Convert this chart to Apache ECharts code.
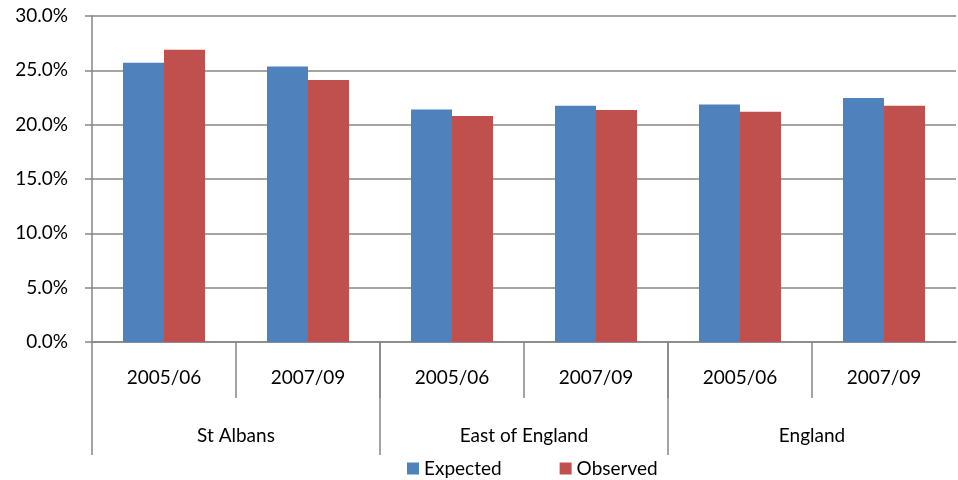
<!DOCTYPE html>
<html>
<head>
<meta charset="utf-8">
<script src="https://cdn.jsdelivr.net/npm/echarts@6/dist/echarts.min.js"></script>
<style>
html,body{margin:0;padding:0;background:#fff;}
#c{width:958px;height:480px;}
</style>
</head>
<body>
<div id="c"></div>
<script>
const periods = ['2005/06', '2007/09', '2005/06', '2007/09', '2005/06', '2007/09'];
const regions = ['St Albans', 'East of England', 'England'];
const expected = [25.7, 25.35, 21.4, 21.75, 21.85, 22.45];
const observed = [26.9, 24.1, 20.8, 21.35, 21.2, 21.75];
const yTicks = { min: 0, max: 30, interval: 5 };

const FONT = 'Lato';
const GRAY = '#868686';
const chart = echarts.init(document.getElementById('c'), null, { renderer: 'canvas' });
chart.setOption({
  animation: false,
  textStyle: { fontFamily: FONT },
  grid: [
    { left: 92, right: 2, top: 16, bottom: 138 },
    { left: 92, right: 2, top: 342, height: 56 },
    { left: 92, right: 2, top: 342, height: 113 }
  ],
  legend: {
    left: 402, top: 454,
    itemWidth: 12, itemHeight: 12, itemGap: 58,
    icon: 'rect',
    textStyle: { fontFamily: FONT, fontSize: 19, color: '#000', padding: [0, 0, 0, 0] },
    data: ['Expected', 'Observed']
  },
  xAxis: [
    {
      type: 'category', gridIndex: 0, data: periods,
      axisLine: { show: true, lineStyle: { color: GRAY, width: 1.5 } },
      axisTick: { show: false },
      axisLabel: { margin: 26, fontSize: 19, color: '#000', fontFamily: FONT, interval: 0 }
    },
    {
      type: 'category', gridIndex: 1, data: periods,
      axisLine: { show: false }, axisTick: { show: false }, axisLabel: { show: false },
      splitLine: { show: true, showMinLine: false, showMaxLine: false, interval: 0, lineStyle: { color: GRAY, width: 1.5 } }
    },
    {
      type: 'category', gridIndex: 2, data: regions,
      axisLine: { show: false }, axisTick: { show: false },
      axisLabel: { inside: true, margin: 10, fontSize: 19, color: '#000', fontFamily: FONT, interval: 0 },
      splitLine: { show: true, showMinLine: true, showMaxLine: false, interval: 0, lineStyle: { color: GRAY, width: 1.5 } }
    }
  ],
  yAxis: [
    {
      type: 'value', gridIndex: 0, min: yTicks.min, max: yTicks.max, interval: yTicks.interval,
      axisLine: { show: true, lineStyle: { color: GRAY, width: 1.5 } },
      axisTick: { show: true, length: 7, lineStyle: { color: GRAY, width: 1.5 } },
      axisLabel: { margin: 24, fontSize: 19, color: '#000', fontFamily: FONT, formatter: v => v.toFixed(1) + '%' },
      splitLine: { show: true, lineStyle: { color: GRAY, width: 1.5 } }
    },
    { type: 'value', gridIndex: 1, show: false },
    { type: 'value', gridIndex: 2, show: false }
  ],
  series: [
    {
      name: 'Expected', type: 'bar', xAxisIndex: 0, yAxisIndex: 0, data: expected,
      barWidth: 41, barGap: '0%',
      itemStyle: { color: '#4F81BD' }
    },
    {
      name: 'Observed', type: 'bar', xAxisIndex: 0, yAxisIndex: 0, data: observed,
      barWidth: 41, barGap: '0%',
      itemStyle: { color: '#C0504D' }
    }
  ]
});
</script>
</body>
</html>
